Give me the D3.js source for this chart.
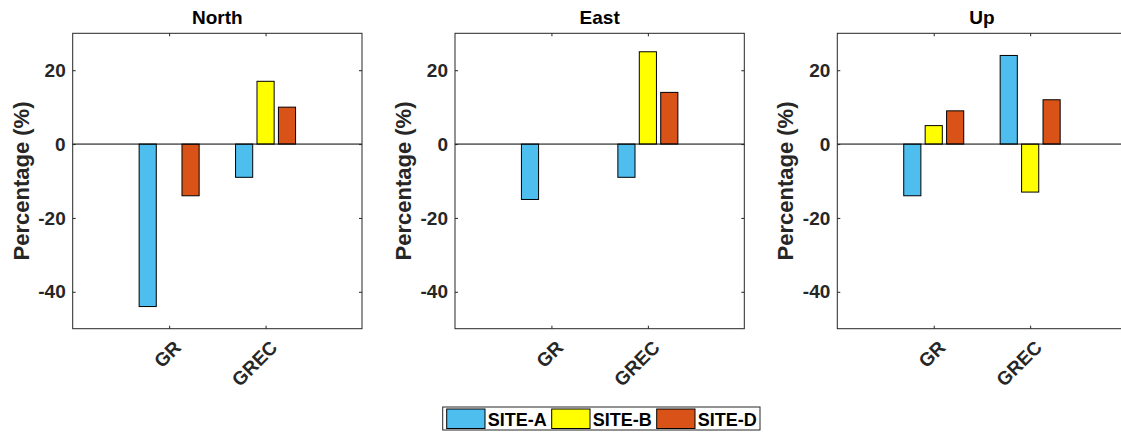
<!DOCTYPE html>
<html>
<head>
<meta charset="utf-8">
<script src="https://cdnjs.cloudflare.com/ajax/libs/d3/7.8.5/d3.min.js"></script>
<style>
    body { margin: 0; background: #fff; }
    svg { display: block; font-family: "Liberation Sans", Arial, sans-serif; }
    .tick-label { font-size: 19px; font-weight: bold; fill: #262626; }
</style>
</head>
<body>
<div id="chart"></div>
<script>
// data
var panels = ["North", "East", "Up"];
var categories = ["GR", "GREC"];
var sites = ["SITE-A", "SITE-B", "SITE-D"];
var siteColors = ["#4DBEEE", "#FFFF00", "#D95319"];

// values[site][category]
var northValues = [[-44, -9], [0, 17], [-14, 10]];
var eastValues = [[-15, -9], [0, 25], [0, 14]];
var upValues = [[-14, 24], [5, -13], [9, 12]];
var panelValues = [northValues, eastValues, upValues];

var yTicks = [-40, -20, 0, 20];
var yDomain = [-50, 30];
var xDomain = [0, 3];

var width = 1121, height = 434;
var panelLeft = [72.7, 455, 837.3];
var plotWidth = 289.3;
var plotTop = 33.3, plotBottom = 328.7;
var textColor = "#262626";

var svg = d3.select("#chart").append("svg")
    .attr("width", width)
    .attr("height", height);

// MATLAB-style grouped bar geometry
var nSeries = sites.length;
var groupWidth = Math.min(0.8, nSeries / (nSeries + 1.5));
var slot = groupWidth / nSeries;
var barWidth = slot * 0.8;

var yScale = d3.scaleLinear().domain(yDomain).range([plotBottom, plotTop]);

function drawPanel(p) {
    var x0 = panelLeft[p];
    var xScale = d3.scaleLinear().domain(xDomain).range([x0, x0 + plotWidth]);
    var g = svg.append("g");

    // bars
    panelValues[p].forEach(function(seriesVals, s) {
        g.selectAll(".bar-" + s)
            .data(seriesVals)
            .enter()
            .append("rect")
            .attr("x", function(d, i) {
                var center = (i + 1) + (s - (nSeries - 1) / 2) * slot;
                return xScale(center - barWidth / 2);
            })
            .attr("width", xScale(barWidth) - xScale(0))
            .attr("y", function(d) { return yScale(Math.max(0, d)); })
            .attr("height", function(d) { return Math.abs(yScale(d) - yScale(0)); })
            .attr("fill", siteColors[s])
            .attr("stroke", "#000")
            .attr("stroke-width", 1);
    });

    // baseline
    g.append("line")
        .attr("x1", xScale(xDomain[0])).attr("x2", xScale(xDomain[1]))
        .attr("y1", yScale(0)).attr("y2", yScale(0))
        .attr("stroke", "#000").attr("stroke-width", 1);

    // box
    g.append("rect")
        .attr("x", xScale(xDomain[0])).attr("y", plotTop)
        .attr("width", plotWidth).attr("height", plotBottom - plotTop)
        .attr("fill", "none").attr("stroke", textColor).attr("stroke-width", 1);

    // y axis (left) and mirrored ticks (right)
    var yAxis = g.append("g")
        .attr("transform", "translate(" + x0 + ",0)")
        .call(d3.axisLeft(yScale).tickValues(yTicks).tickSizeInner(-3).tickSizeOuter(0).tickPadding(7)
            .tickFormat(function(d) { return String(d); }));
    yAxis.select(".domain").remove();
    yAxis.selectAll(".tick line").attr("stroke", textColor);
    yAxis.selectAll(".tick text").attr("class", "tick-label").attr("font-family", null).attr("font-size", null);

    g.append("g")
        .attr("transform", "translate(" + (x0 + plotWidth) + ",0)")
        .call(d3.axisRight(yScale).tickValues(yTicks).tickSize(-3).tickFormat(""))
        .call(function(a) { a.select(".domain").remove(); a.selectAll("line").attr("stroke", textColor); });

    // x ticks bottom and top
    var xTickVals = categories.map(function(c, i) { return i + 1; });
    g.append("g")
        .attr("transform", "translate(0," + plotBottom + ")")
        .call(d3.axisBottom(xScale).tickValues(xTickVals).tickSize(-3).tickFormat(""))
        .call(function(a) { a.select(".domain").remove(); a.selectAll("line").attr("stroke", textColor); });
    g.append("g")
        .attr("transform", "translate(0," + plotTop + ")")
        .call(d3.axisTop(xScale).tickValues(xTickVals).tickSize(-3).tickFormat(""))
        .call(function(a) { a.select(".domain").remove(); a.selectAll("line").attr("stroke", textColor); });

    // rotated category labels
    g.selectAll(".cat-label")
        .data(categories)
        .enter()
        .append("text")
        .attr("class", "tick-label")
        .attr("text-anchor", "end")
        .attr("transform", function(d, i) {
            return "translate(" + (xScale(i + 1) + 13) + "," + (plotBottom + 20) + ") rotate(-45)";
        })
        .text(function(d) { return d; });

    // title
    g.append("text")
        .attr("x", x0 + plotWidth / 2)
        .attr("y", 24)
        .attr("text-anchor", "middle")
        .attr("font-size", "19px")
        .attr("font-weight", "bold")
        .attr("fill", "#000")
        .text(panels[p]);

    // y label
    g.append("text")
        .attr("transform", "translate(" + (x0 - 44) + "," + ((plotTop + plotBottom) / 2) + ") rotate(-90)")
        .attr("text-anchor", "middle")
        .attr("font-size", "22px")
        .attr("font-weight", "bold")
        .attr("fill", textColor)
        .text("Percentage (%)");
}

panels.forEach(function(name, p) { drawPanel(p); });

// legend
function setUpLegend() {
    var legend = svg.append("g");
    legend.append("rect")
        .attr("x", 442.7).attr("y", 407)
        .attr("width", 317.3).attr("height", 23)
        .attr("fill", "#fff").attr("stroke", textColor).attr("stroke-width", 1);
    var entryX = [446.7, 551.7, 656.7];
    sites.forEach(function(site, s) {
        legend.append("rect")
            .attr("x", entryX[s]).attr("y", 409)
            .attr("width", 38.3).attr("height", 19.5)
            .attr("fill", siteColors[s]).attr("stroke", "#000").attr("stroke-width", 1);
        legend.append("text")
            .attr("x", entryX[s] + 41).attr("y", 425.5)
            .attr("font-size", "18px")
            .attr("font-weight", "bold")
            .attr("fill", "#000")
            .text(site);
    });
}
setUpLegend();
</script>
</body>
</html>
